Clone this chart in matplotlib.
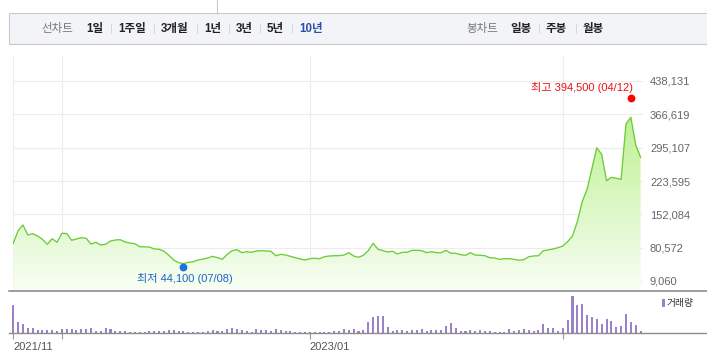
import numpy as np
import matplotlib
matplotlib.use("Agg")
import matplotlib.pyplot as plt
import matplotlib.transforms as mtransforms
from matplotlib.colors import LinearSegmentedColormap
from matplotlib.patches import Rectangle
from matplotlib.lines import Line2D

plt.rcParams["font.family"] = ["Liberation Sans", "Noto Sans CJK KR"]

# weekly close prices
close = [
    89900, 117000, 129200, 107800, 110500, 105600, 98500, 87800, 99800, 92100,
    111400, 111000, 96400, 99200, 102000, 100700, 88400, 92100, 86300, 87800,
    94900, 97000, 97700, 92700, 90600, 89100, 82600, 82300, 82000, 77700,
    77100, 72800, 64200, 54100, 48300,
    46500, 49200, 50500, 54100, 56300, 58400, 62000, 59000, 55600, 66300,
    74100, 76200, 69800, 71900, 70600, 73400, 74100, 73400, 72800, 63300,
    66300, 64800, 62000, 59000, 56300, 54100, 56900, 57800, 56900, 61200,
    62700, 63300, 63300, 64800,
    69800, 62700, 59900, 64200, 74100, 89900, 77100, 74100, 71300, 72800,
    67000, 70600, 70600, 74900, 74900, 74100, 69800, 71900, 69800, 69800,
    74900, 68500, 68500, 65500, 64200, 69800, 64800, 64200, 63300, 59000,
    58400, 55600, 56900, 56900,
    55600, 53500, 54800, 61200, 62700, 63300, 74100, 75600, 77700, 80500,
    84100, 93400, 105600, 136300, 179200, 205800, 250800, 295000, 280900, 224200,
    231500, 229400, 227200, 345900, 360300, 300800, 274400,
]

# weekly volume (relative units)
volume = [
    2770, 1070, 870, 530, 530, 330, 330, 330, 330, 230,
    430, 430, 430, 270, 430, 430, 530, 230, 230, 530,
    430, 230, 230, 230, 130, 130, 130, 130, 230, 230,
    230, 230, 330, 330, 230, 230, 130, 130, 130, 130,
    230, 330, 230, 230, 430, 530, 430, 330, 230, 130,
    430, 330, 330, 230, 430, 330, 230, 230, 130, 130,
    130, 130, 130, 130, 130, 110,
    200, 200, 400, 300, 400, 200, 300, 1130, 1630, 1730,
    1730, 630, 230, 300, 300, 200, 300, 300, 400, 200,
    300, 300, 300, 730, 1030, 530, 200, 200, 300, 200,
    300, 200, 200, 100, 100, 100, 400, 200, 300, 400,
    300, 200, 300, 930, 530, 530, 200, 530, 1330, 3670,
    2770, 2930, 1830, 1630, 1430, 930, 1430, 1230, 630, 730,
    1930, 1130, 830, 230,
]

price_ticks = [9060, 80572, 152084, 223595, 295107, 366619, 438131]
date_ticks = [0, 10, 61, 113]
date_labels = {0: "2021/11", 61: "2023/01"}

high_val, high_date = 394500, "04/12"
low_val, low_date = 44100, "07/08"

period_labels = ["1일", "1주일", "3개월", "1년", "3년", "5년", "10년"]
candle_labels = ["일봉", "주봉", "월봉"]

W, H = 707, 360
LINE = "#6ccb38"
PURPLE = "#9a81c8"


def rect(x0, y0, x1, y1):
    """pixel box (y from top) -> figure fraction [l, b, w, h]"""
    return [x0 / W, 1 - y1 / H, (x1 - x0) / W, (y1 - y0) / H]


fig = plt.figure(figsize=(W / 100, H / 100), dpi=100)

# ---- toolbar ----
fig.add_artist(Rectangle((9 / W, 1 - 44 / H), 1, 31 / H, transform=fig.transFigure,
                         facecolor="#f3f4f7", edgecolor="#c9c9c9", lw=0.8))
fig.add_artist(Line2D([217 / W, 217 / W], [1, 1 - 13 / H], color="#c9c9c9", lw=0.8))

ty = 1 - 29 / H
fig.text(41 / W, ty, "선차트", fontsize=8.3, color="#777777", va="center")
period_x = [86, 118, 161, 204, 236, 267, 299]
for i, (lab, px) in enumerate(zip(period_labels, period_x)):
    active = lab == "10년"
    fig.text(px / W, ty, lab, fontsize=8.3, fontweight="bold", va="center",
             color="#2b4fa8" if active else "#222222")
    if i > 0:
        fig.text((px - 8) / W, ty, "|", fontsize=8, color="#d6d6d6", va="center")
fig.text(466 / W, ty, "봉차트", fontsize=8.3, color="#777777", va="center")
candle_x = [510, 546, 583]
for i, (lab, px) in enumerate(zip(candle_labels, candle_x)):
    fig.text(px / W, ty, lab, fontsize=8.3, fontweight="bold", va="center", color="#222222")
    if i > 0:
        fig.text((px - 8) / W, ty, "|", fontsize=8, color="#d6d6d6", va="center")

# ---- price panel ----
x = np.arange(len(close))
ppx = (price_ticks[-1] - price_ticks[0]) / 200.0  # value per pixel
ax = fig.add_axes(rect(13, 56, 643, 290))
ybot = price_ticks[0] - 9 * ppx
ytop = price_ticks[-1] + 25 * ppx
ax.set_ylim(ybot, ytop)
ax.set_xlim(-0.05, 129.5)

ax.plot(x, close, color=LINE, lw=0.95, zorder=3, solid_joinstyle="round")
poly = ax.fill_between(x, close, ybot, color="none", lw=0)
cmap = LinearSegmentedColormap.from_list("g", ["#f8fef4", "#bdf091"])
grad = np.linspace(0, 1, 256).reshape(-1, 1)
im = ax.imshow(grad, cmap=cmap, origin="lower", aspect="auto",
               extent=[-0.05, 129.5, ybot, 370000], zorder=2)
im.set_clip_path(poly.get_paths()[0], transform=ax.transData)

ax.set_yticks(price_ticks)
ax.set_yticklabels([f"{v:,}" for v in price_ticks])
ax.yaxis.tick_right()
ax.set_xticks(date_ticks)
ax.set_xticklabels([])
ax.tick_params(length=0, labelsize=8, labelcolor="#666666")
ax.tick_params(axis="y", pad=5)
ax.grid(True, color="#ececec", lw=0.8)
ax.set_axisbelow(True)
for s in ax.spines.values():
    s.set_visible(False)

# high / low markers
imax = int(np.argmax(close))
imin = int(np.argmin(close))
up = mtransforms.offset_copy(ax.transData, fig=fig, x=0, y=3, units="dots")
dn = mtransforms.offset_copy(ax.transData, fig=fig, x=0, y=-2.6, units="dots")
ax.plot(imax, high_val, "o", color="#ff0000", ms=4.6, transform=up, zorder=5, clip_on=False)
ax.plot(imin, low_val, "o", color="#1f6fdc", ms=4.6, transform=dn, zorder=5, clip_on=False)
ax.annotate(f"최고 {high_val:,} ({high_date})", (imax, high_val), xytext=(2, 14),
            textcoords="offset pixels", ha="right", va="center", fontsize=8,
            color="#ee1111", annotation_clip=False)
ax.annotate(f"최저 {low_val:,} ({low_date})", (imin, low_val), xytext=(1, -13.5),
            textcoords="offset pixels", ha="center", va="center", fontsize=8,
            color="#1f62c8", annotation_clip=False)

# ---- volume panel ----
axv = fig.add_axes(rect(13, 291, 643, 333))
bars = axv.bar(x, volume, width=0.42, color=PURPLE, zorder=2)
for b in bars:
    b.set_clip_on(False)
axv.set_xlim(-0.05, 129.5)
axv.set_ylim(0, 4200)
axv.set_yticks([])
axv.set_xticks(date_ticks)
axv.set_xticklabels([date_labels.get(t, "") for t in date_ticks])
for lab in axv.get_xticklabels():
    lab.set_ha("left")
axv.tick_params(axis="x", length=4, color="#9a9a9a", labelsize=8,
                labelcolor="#555555", pad=2.5)
for s in axv.spines.values():
    s.set_visible(False)

fig.add_artist(Line2D([9 / W, 1], [1 - 291 / H] * 2, color="#7f8388", lw=1.1))
fig.add_artist(Line2D([9 / W, 1], [1 - 333.3 / H] * 2, color="#8c8c8c", lw=1.0))

# legend
fig.add_artist(Rectangle((662 / W, 1 - 307 / H), 2.6 / W, 8 / H, transform=fig.transFigure,
                         facecolor=PURPLE, edgecolor="none"))
fig.text(667 / W, 1 - 303 / H, "거래량", fontsize=7, color="#333333", va="center")

fig.savefig("out.png", dpi=100)
